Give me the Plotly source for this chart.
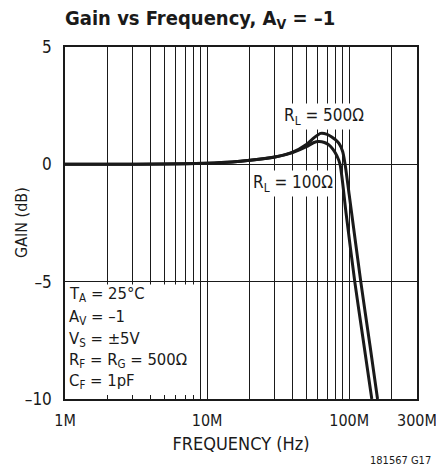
import math
import plotly.graph_objects as go

# Closed-loop gain of the inverting amplifier (Av = -1) versus frequency
freq_500_mhz = [1, 2, 5, 10, 15, 20, 30, 40, 50, 57, 63, 70, 75, 80, 85, 90, 93.6, 100, 120.7, 140, 158.4]
gain_500_db = [0, 0, 0.01, 0.05, 0.1, 0.17, 0.31, 0.52, 0.85, 1.15, 1.32, 1.28, 1.18, 1.05, 0.88, 0.55, 0.0, -1.28, -5.0, -7.7, -10.0]

freq_100_mhz = [1, 2, 5, 10, 15, 20, 30, 40, 50, 56, 61, 67, 72, 77, 82, 86.3, 95, 109.5, 125, 144.3]
gain_100_db = [0, 0, 0.01, 0.05, 0.1, 0.17, 0.31, 0.5, 0.75, 0.92, 0.97, 0.93, 0.83, 0.64, 0.36, 0.0, -2.05, -5.0, -7.4, -10.0]

x_tick_hz = [1e6, 1e7, 1e8, 3e8]
x_tick_text = ["1M", "10M", "100M", "300M"]
x_minor_hz = [m * 10 ** e for e in (6, 7) for m in range(2, 10)] + [2e8]

conditions = [
    "T<sub>A</sub> = 25°C",
    "A<sub>V</sub> = –1",
    "V<sub>S</sub> = ±5V",
    "R<sub>F</sub> = R<sub>G</sub> = 500Ω",
    "C<sub>F</sub> = 1pF",
]
condition_y_db = [-5.54, -6.52, -7.46, -8.35, -9.25]

FONT = "DejaVu Sans Condensed, sans-serif"
INK = "#1a1a1a"

fig = go.Figure()
for f, g in ((freq_500_mhz, gain_500_db), (freq_100_mhz, gain_100_db)):
    fig.add_trace(go.Scatter(
        x=[v * 1e6 for v in f], y=g, mode="lines",
        line=dict(color=INK, width=3, shape="spline", smoothing=0.7),
        showlegend=False, hoverinfo="skip",
    ))

# white panel for the test conditions
fig.add_shape(type="rect", xref="x", yref="y", x0=1e6, x1=8.85e6, y0=-9.88, y1=-5.12,
              fillcolor="white", line=dict(width=0), layer="between")

for t, yy in zip(conditions, condition_y_db):
    fig.add_annotation(text=t, xref="paper", yref="y", x=0.005, y=yy,
                       xanchor="left", yanchor="middle", showarrow=False,
                       font=dict(family=FONT, size=16.5, color=INK))

# curve labels (annotation x on a log axis is given in decades)
fig.add_annotation(text="R<sub>L</sub> = 500Ω", x=math.log10(6.62e7), y=2.05, xref="x", yref="y",
                   showarrow=False, bgcolor="white", borderpad=1,
                   font=dict(family=FONT, size=17, color=INK))
fig.add_annotation(text="R<sub>L</sub> = 100Ω", x=math.log10(4.0e7), y=-0.81, xref="x", yref="y",
                   showarrow=False, bgcolor="white", borderpad=1,
                   font=dict(family=FONT, size=17, color=INK))

# y-axis title
fig.add_annotation(text="GAIN (dB)", xref="paper", yref="paper", x=(21 - 65) / 352, y=0.5,
                   textangle=-90, showarrow=False, xanchor="center", yanchor="middle",
                   font=dict(family=FONT, size=16, color=INK))

fig.add_annotation(text="181567 G17", xref="paper", yref="paper", x=1.045, y=-0.175,
                   xanchor="right", yanchor="middle", showarrow=False,
                   font=dict(family=FONT, size=11, color=INK))

fig.update_layout(
    width=436, height=472,
    margin=dict(l=65, r=19, t=47, b=73, autoexpand=False),
    paper_bgcolor="white", plot_bgcolor="white",
    font=dict(family=FONT, size=18, color=INK),
    title=dict(text="<b>Gain vs Frequency, A<sub>V</sub> = –1</b>",
               x=65 / 436, xanchor="left", y=1 - 18 / 472, yanchor="middle",
               font=dict(family=FONT, size=20, color=INK)),
)
fig.update_xaxes(
    type="log", range=[6, 8.4775], automargin=False,
    tickmode="array", tickvals=x_tick_hz, ticktext=x_tick_text,
    showgrid=True, gridcolor=INK, gridwidth=1,
    ticks="inside", ticklen=4, tickcolor=INK, ticklabelstandoff=6,
    ticklabeloverflow="allow",
    minor=dict(tickmode="array", tickvals=x_minor_hz, showgrid=True,
               gridcolor=INK, gridwidth=1, ticks="inside", ticklen=4, tickcolor=INK),
    showline=True, linecolor=INK, linewidth=1.5, mirror=True,
    title=dict(text="FREQUENCY (Hz)", font=dict(size=18), standoff=8),
    tickfont=dict(size=16), zeroline=False,
)
fig.update_yaxes(
    range=[-10, 5], tickmode="array", tickvals=[-10, -5, 0, 5], automargin=False,
    ticktext=["–10", "–5", "0", "5"],
    showgrid=True, gridcolor=INK, gridwidth=1, zeroline=False,
    ticks="", showline=True, linecolor=INK, linewidth=1.5, mirror=True,
    ticklabelstandoff=8,
    tickfont=dict(size=17),
)

fig.write_html("out.html")
